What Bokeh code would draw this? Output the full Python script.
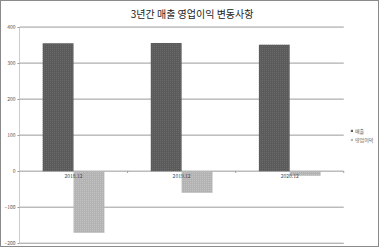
from bokeh.plotting import figure
from bokeh.models import Range1d, FixedTicker, Legend, LegendItem, ColumnDataSource
from bokeh.core.properties import value
from bokeh.embed import file_html
from bokeh.resources import INLINE

# Data
periods = ["2018.12", "2019.12", "2020.12"]
sales = [355, 356, 351]
operating_profit = [-171, -60, -13]
series_names = ["매출", "영업이익"]
y_ticks = [-200, -100, 0, 100, 200, 300, 400]
title_text = "3년간 매출 영업이익 변동사항"

FONT = "Noto Sans CJK KR"
GRID = "#9a9a9a"
DARK = "#5b5b5b"
LIGHT = "#b3b3b3"

n = len(periods)
y_lo, y_hi = min(y_ticks), max(y_ticks)
centers = [i + 0.5 for i in range(n)]
bar_w = 0.285
src = ColumnDataSource(dict(period=periods, xc=centers,
                            xs=[c - bar_w / 2 for c in centers],
                            xo=[c + bar_w / 2 for c in centers],
                            sales=sales, op=operating_profit,
                            zero=[0] * n))

# The frame covers the whole canvas right of the value axis; the value
# scale runs -200..400 and the extra headroom holds the title.
p = figure(width=379, height=247, output_backend="svg", toolbar_location=None,
           x_range=Range1d(0, 3.34), y_range=Range1d(-214.7, 471.0),
           min_border_left=16, min_border_right=0, min_border_top=0,
           min_border_bottom=0)
p.styles = {"border": "1px solid #8a8a8a"}
p.outline_line_color = None
p.background_fill_color = "white"
p.border_fill_color = "white"

# Axes
p.xaxis.visible = False
p.xgrid.visible = False
p.ygrid.visible = False
p.yaxis.ticker = FixedTicker(ticks=y_ticks)
p.yaxis.axis_line_color = None
p.yaxis.major_tick_line_color = GRID
p.yaxis.major_tick_out = 2
p.yaxis.major_tick_in = 0
p.yaxis.minor_tick_line_color = None
p.yaxis.major_label_standoff = 2
p.yaxis.major_label_text_font = FONT
p.yaxis.major_label_text_font_size = "5px"
p.yaxis.major_label_text_color = "#555555"

# Value axis line and horizontal gridlines over the category area
p.segment(x0=[0], x1=[0], y0=[y_lo], y1=[y_hi], line_color=GRID, line_width=1)
p.segment(x0=[0] * len(y_ticks), x1=[n] * len(y_ticks), y0=y_ticks,
          y1=y_ticks, line_color=GRID, line_width=1)
# small category separators under the zero line
p.segment(x0=list(range(1, n + 1)), x1=list(range(1, n + 1)),
          y0=[0] * n, y1=[-5] * n, line_color=GRID, line_width=1)

# Bars
r_sales = p.vbar(x="xs", top="sales", bottom=0, width=bar_w, source=src,
                 fill_color=DARK, line_color=None, hatch_pattern="dot",
                 hatch_color="#707070", hatch_scale=2, hatch_weight=0.6)
r_op = p.vbar(x="xo", top="zero", bottom="op", width=bar_w, source=src,
              fill_color=LIGHT, line_color=None, hatch_pattern="dot",
              hatch_color="#c8c8c8", hatch_scale=2, hatch_weight=0.6)

# Category labels sitting just under the zero line
p.text(x="xc", y=-14, text="period", source=src, text_align="center",
       text_baseline="middle", text_font=value(FONT), text_font_size="5px",
       text_color="#444444")

# Chart title
p.text(x=[1.597], y=[437.5], text=[title_text], text_align="center",
       text_baseline="middle", text_font=value(FONT), text_font_size="10px",
       text_color="#222222")

# Legend to the right of the category area
legend = Legend(items=[LegendItem(label=series_names[0], renderers=[r_sales]),
                       LegendItem(label=series_names[1], renderers=[r_op])],
                location=(331, 105), orientation="vertical",
                label_text_font=FONT, label_text_font_size="5px",
                label_text_color="#555555", glyph_width=3, glyph_height=3,
                label_height=6, label_standoff=2, spacing=2, padding=0,
                margin=0, border_line_color=None, background_fill_alpha=0)
p.add_layout(legend)

open("out.html", "w").write(file_html(p, INLINE))
